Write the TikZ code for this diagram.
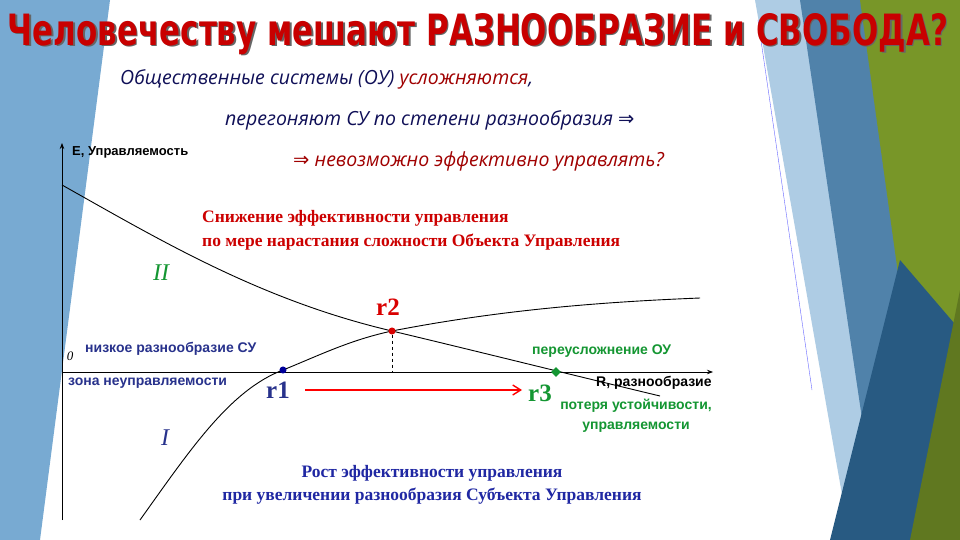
\documentclass[tikz,border=0pt]{standalone}
\usepackage{fontspec}
\usetikzlibrary{shapes.geometric,arrows.meta}
\setmainfont{Liberation Serif}
\setsansfont{Open Sans}
\newfontfamily\djf{DejaVu Sans}
\newfontfamily\libf{Liberation Sans}
\begin{document}
\begin{tikzpicture}[x=1pt,y=-1pt,
  lbl/.style={font=\libf\bfseries\fontsize{14}{16}\selectfont, inner sep=0pt},
  head/.style={font=\bfseries\fontsize{25}{27}\selectfont, inner sep=0pt},
  sub/.style={font=\sffamily\itshape\fontsize{19.5}{21}\selectfont, inner sep=0pt, text=gray!30!blue!40!black},
  crv/.style={line width=0.9pt}]
\definecolor{tred}{RGB}{200,0,0}
\definecolor{lblue}{RGB}{120,170,210}
\definecolor{mblue}{RGB}{80,130,170}
\definecolor{dblue}{RGB}{40,90,130}
\definecolor{ogreen}{RGB}{120,150,40}
\definecolor{tgreen}{RGB}{20,150,50}
\definecolor{nblue}{RGB}{40,50,140}
\useasboundingbox (0,0) rectangle (960,540);
\fill[white] (0,0) rectangle (960,540);
% backgrounds
\fill[lblue] (0,0) -- (110,0) -- (40,540) -- (0,540) -- cycle;
\fill[lblue!60] (755,0) -- (960,0) -- (960,540) -- (850,540) -- cycle;
\fill[mblue] (800,0) -- (900,0) -- (960,250) -- (960,540) -- (880,540) -- cycle;
\fill[ogreen] (860,0) -- (960,0) -- (960,540) -- (935,540) -- cycle;
\fill[dblue] (900,260) -- (960,330) -- (960,540) -- (830,540) -- cycle;
\fill[ogreen!80!black] (960,290) -- (960,540) -- (910,540) -- cycle;
\draw[blue!60, thin] (758,20) -- (812,390);
% title
\node[inner sep=0pt, text=black!60, xshift=1.5pt, yshift=-1.5pt] (titles) at (478,34) {\resizebox{940pt}{32pt}{\djf\bfseries Человечеству мешают РАЗНООБРАЗИЕ и СВОБОДА?}};
\node[inner sep=0pt, text=tred] (title) at (478,34) {\resizebox{940pt}{32pt}{\djf\bfseries Человечеству мешают РАЗНООБРАЗИЕ и СВОБОДА?}};
\node[sub, anchor=west] (s1) at (120,79) {Общественные системы (ОУ) \textcolor{tred!80!black}{усложняются},};
\node[sub, anchor=west] (s2) at (225,120) {перегоняют СУ по степени разнообразия {\djf ⇒}};
\node[sub, anchor=west, text=tred!80!black] (s3) at (293,161) {{\djf ⇒} невозможно эффективно управлять?};
% axes
\draw[-{Stealth[length=6pt]}, line width=0.8pt] (62,520) coordinate (o1) -- (62,143) coordinate (ytop);
\draw[-{Stealth[length=6pt]}, line width=0.8pt] (62,372) coordinate (o2) -- (713,372) coordinate (xend);
\node[lbl, anchor=west, font=\libf\bfseries\fontsize{13}{14}\selectfont] (ylab) at (72,152) {E, Управляемость};
\node[lbl, anchor=west] (xlab) at (596,383) {R, разнообразие};
\node[inner sep=0pt, font=\itshape\fontsize{13}{15}\selectfont] (zero) at (70,356) {0};
% curves
\draw[crv] (62,185) .. controls (160,240) and (260,300) .. (392,331) .. controls (480,352) and (560,372) .. (660,396);
\draw[crv] (140,520) .. controls (190,450) and (230,390) .. (283,370) .. controls (320,355) and (350,340) .. (392,331) .. controls (500,310) and (600,302) .. (700,298);
\coordinate (r2b) at (392,372);
\node[circle, fill=blue!60!black, inner sep=2.5pt] (r1) at (283,370) {};
\node[circle, fill=red!85!black, inner sep=2.5pt] (r2) at (392,331) {};
\node[diamond, fill=tgreen, inner sep=0pt, minimum size=10pt] (r3) at (556,372) {};
\draw[dashed] (r2) -- (r2b);
\coordinate (aa) at (305,390);
\coordinate (ab) at (522,390);
\draw[-{Straight Barb[length=8pt,width=10pt]}, red, line width=1.4pt] (aa) -- (ab);
\node[head, text=red!85!black] (r2l) at (388,307) {r2};
\node[head, text=nblue] (r1l) at (278,390) {r1};
\node[head, text=tgreen] (r3l) at (540,393) {r3};
\node[inner sep=0pt, text=tgreen, font=\itshape\fontsize{24}{26}\selectfont] (II) at (161,273) {II};
\node[inner sep=0pt, text=nblue, font=\itshape\fontsize{24}{26}\selectfont] (I) at (165,438) {I};
\node[lbl, text=nblue, anchor=west] (n1) at (85,349) {низкое разнообразие СУ};
\node[lbl, text=nblue, anchor=west] (n2) at (68,383) {зона неуправляемости};
\node[lbl, text=tgreen, anchor=west] (g1) at (532,351) {переусложнение ОУ};
\node[lbl, text=tgreen] (g2) at (636,406) {потеря устойчивости,};
\node[lbl, text=tgreen] (g3) at (636,427) {управляемости};
\node[text=red!80!black, align=left, anchor=west, inner sep=0pt, font=\bfseries\fontsize{17.5}{24}\selectfont] (h1) at (202,230) {Снижение эффективности управления\\по мере нарастания сложности Объекта Управления};
\node[text=nblue!80!blue, align=center, inner sep=0pt, font=\bfseries\fontsize{17.5}{23}\selectfont] (h2) at (432,485) {Рост эффективности управления\\при увеличении разнообразия Субъекта Управления};
\end{tikzpicture}
\end{document}
